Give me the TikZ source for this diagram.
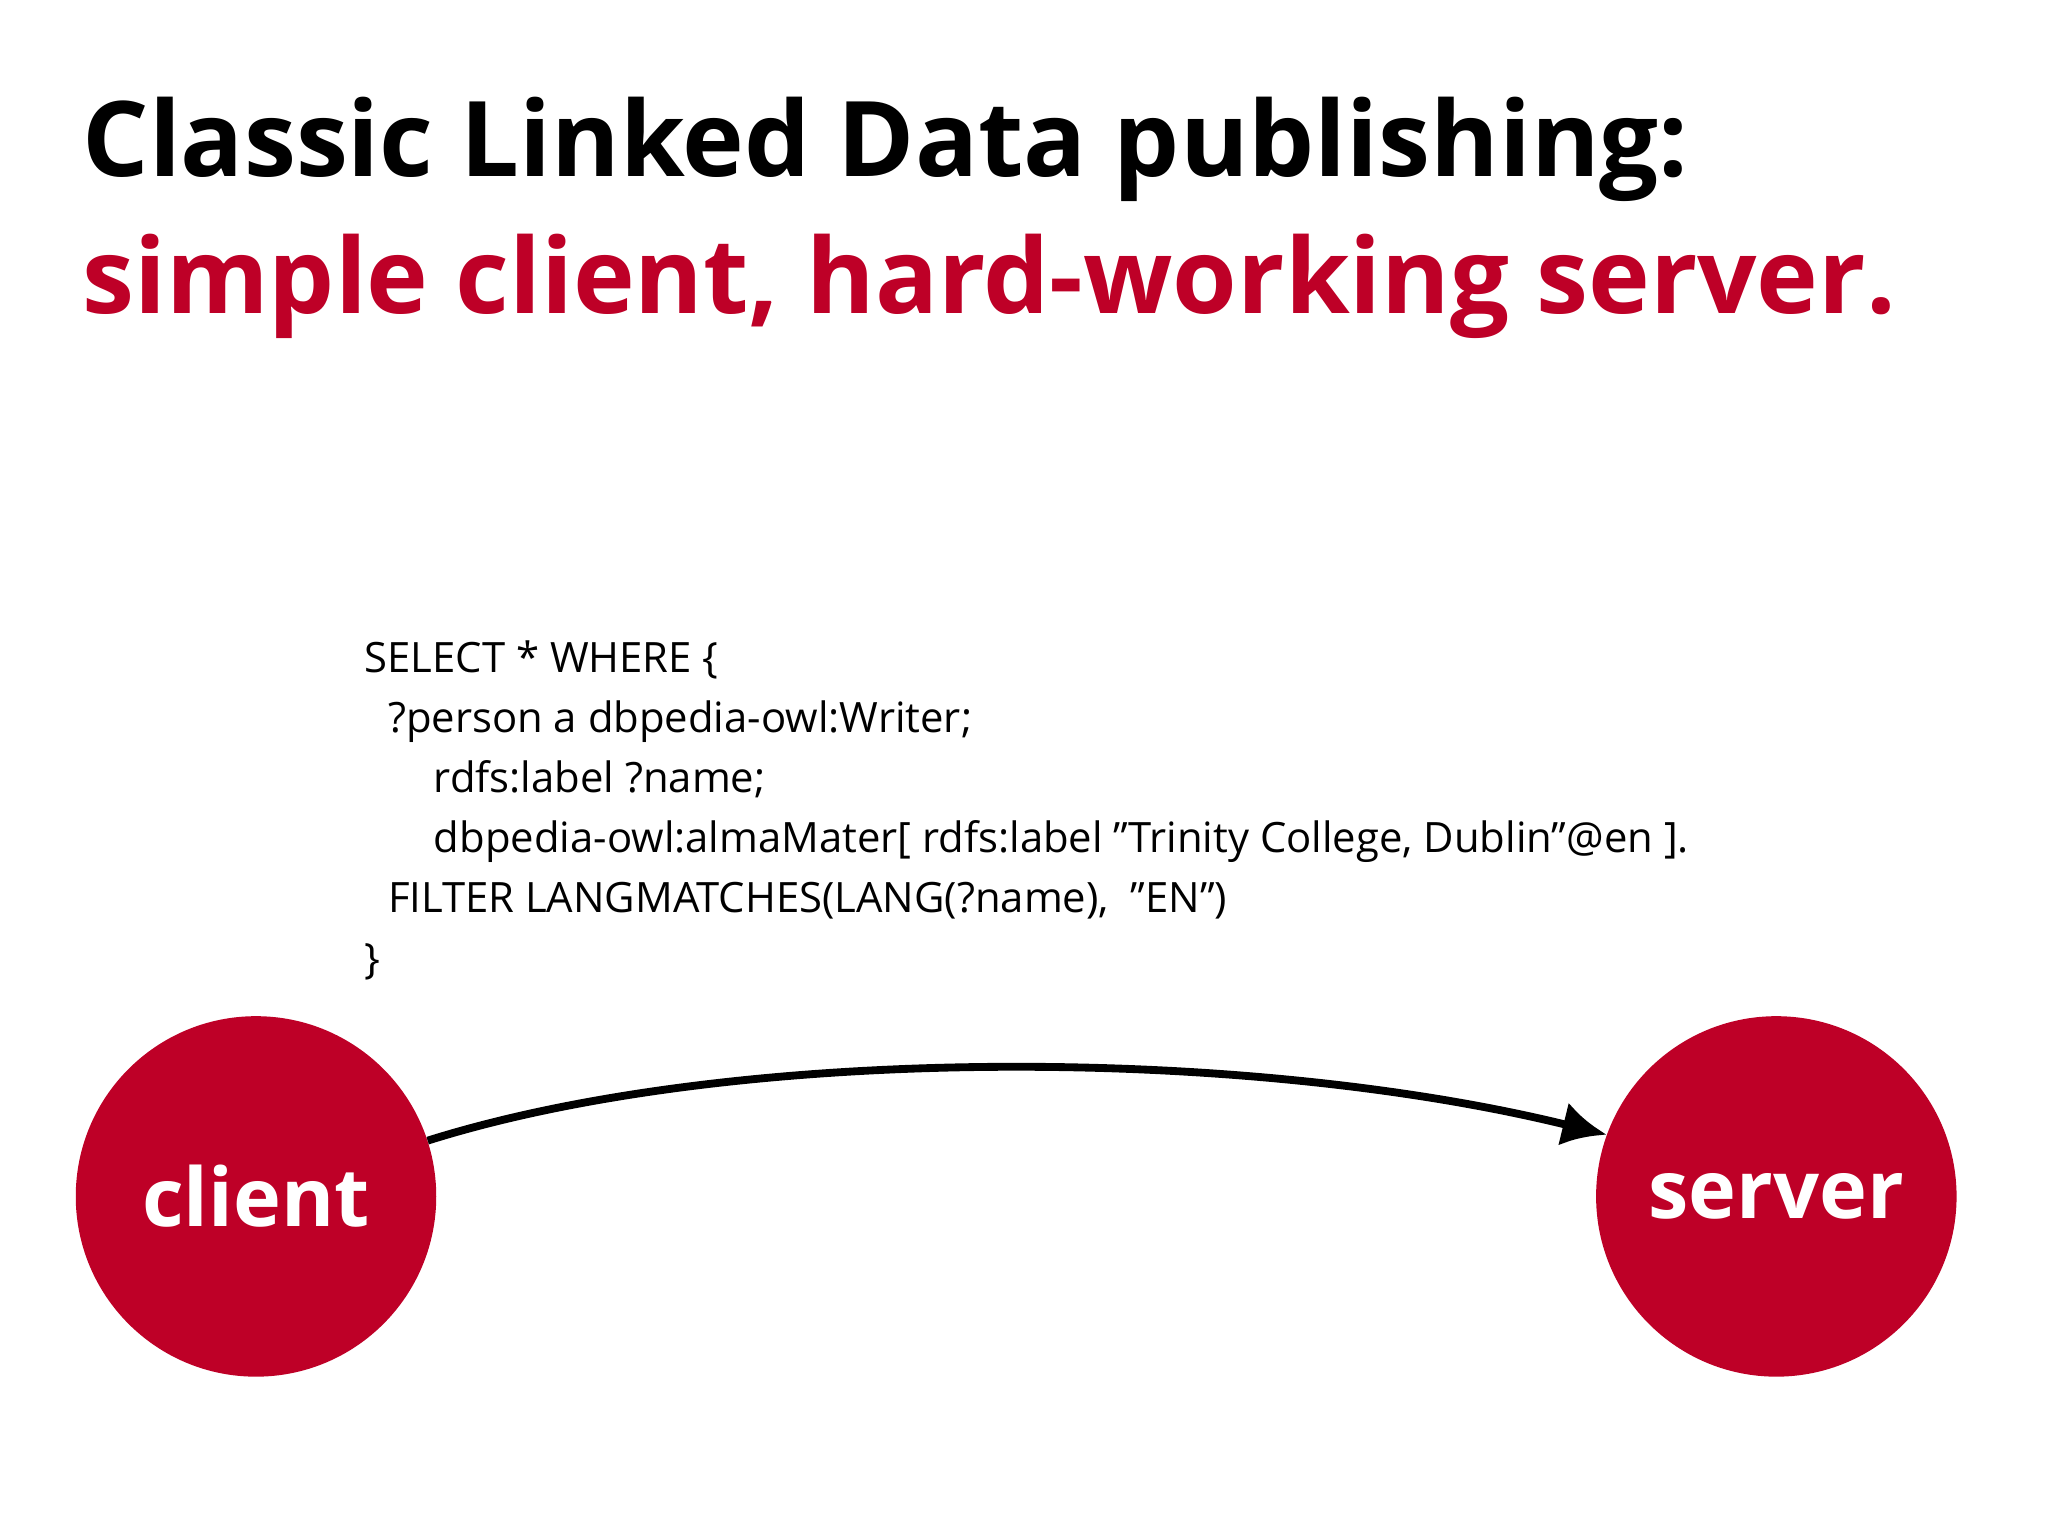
\documentclass[tikz,border=0pt]{standalone}
\usepackage{fontspec}
\setmainfont{Open Sans}
\usetikzlibrary{arrows.meta}
\definecolor{lred}{HTML}{BE0027}
\tikzset{
  code/.style={anchor=base west,inner sep=0pt,font=\fontsize{32}{38}\selectfont},
  title/.style={anchor=base west,inner sep=0pt,font=\fontsize{80}{90}\selectfont\bfseries},
  party/.style={circle,fill=lred,minimum size=276pt,inner sep=0pt,text=white,font=\fontsize{62}{70}\selectfont\bfseries},
}
\begin{document}
\begin{tikzpicture}[x=1pt,y=-1pt]
\useasboundingbox (0,0) rectangle (1568,1176);
\node[title] (t1) at (63,135) {Classic Linked Data publishing:};
\node[title,text=lred] (t2) at (63,240) {simple client, hard-working server.};
\node[code] (c1) at (279,515) {SELECT * WHERE \{};
\node[code] (c2) at (297,561) {?person a dbpedia-owl:Writer;};
\node[code] (c3) at (332,607) {rdfs:label ?name;};
\node[code] (c4) at (332,653) {dbpedia-owl:almaMater[ rdfs:label "Trinity College, Dublin"@en ].};
\node[code] (c5) at (297,699) {FILTER LANGMATCHES(LANG(?name),~~"EN")};
\node[code] (c6) at (279,745) {\}};
\node[party] (client) at (196,916) {client};
\node[party] (server) at (1360,916) {server};
\draw[line width=6pt,-{Latex[length=34pt,width=34pt]}] (client.{18}) .. controls (560,800) and (950,800) .. (server.{160});
\end{tikzpicture}
\end{document}
